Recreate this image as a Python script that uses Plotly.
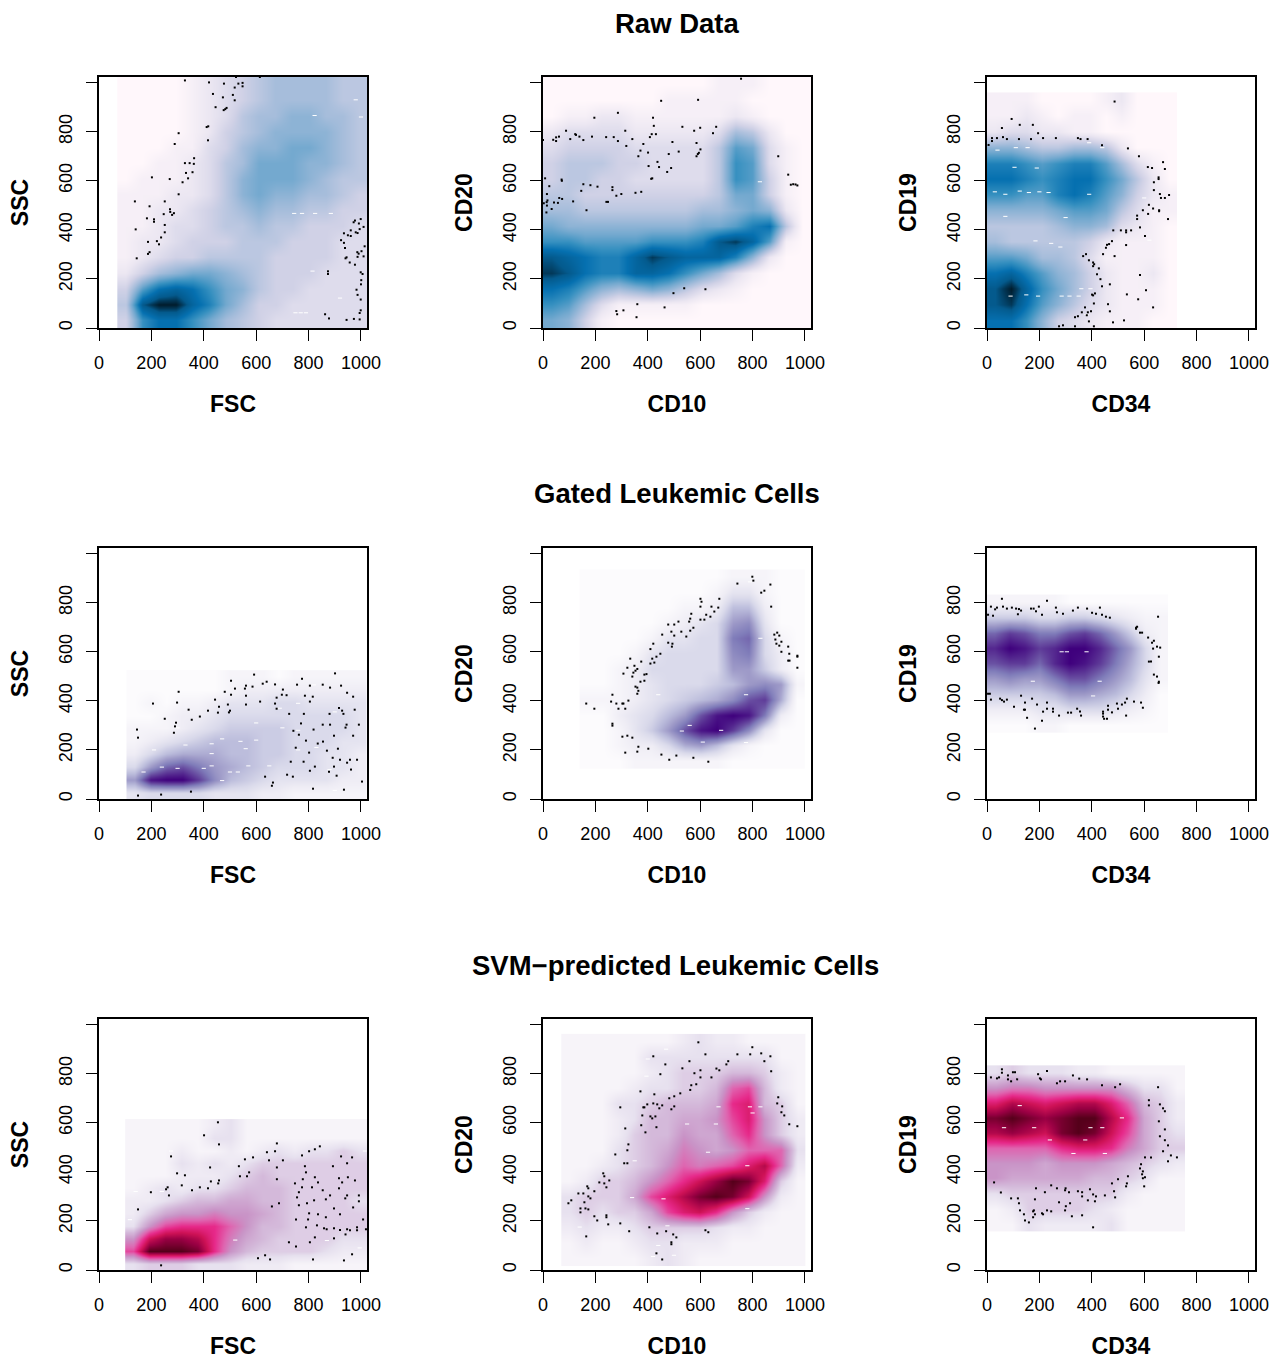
import plotly.graph_objects as go

XLABELS = ["FSC", "CD10", "CD34"]
YLABELS = ["SSC", "CD20", "CD19"]
ROW_TITLES = ["Raw Data", "Gated Leukemic Cells", "SVM\u2212predicted Leukemic Cells"]
TICKS = [0, 200, 400, 600, 800, 1000]

PUBU = [(0, "#FFF7FB"), (2, "#ECE7F2"), (4, "#D0D1E6"), (6, "#A6BDDB"), (8, "#74A9CF"), (10, "#3690C0"), (12, "#0570B0"), (14, "#045A8D"), (15, "#023858"), (16, "#011C2C")]
PURPLES = [(0, "#FCFBFD"), (2, "#EFEDF5"), (4, "#DADAEB"), (6, "#BCBDDC"), (8, "#9E9AC8"), (10, "#807DBA"), (12, "#6A51A3"), (14, "#54278F"), (16, "#3F007D")]
PURD = [(0, "#F7F4F9"), (2, "#E7E1EF"), (4, "#D4B9DA"), (6, "#C994C7"), (8, "#DF65B0"), (10, "#E7298A"), (12, "#CE1256"), (14, "#980043"), (16, "#55001A")]

# density levels, rows listed from top of the panel to the bottom; (x_min, x_max, y_min, y_max) extents
EXT1 = (70, 1023, 0, 1024)
D1 = [
 [0,0,0,0,1,2,3,4,5,6,6,6,6,5,5],
 [0,0,0,0,1,2,3,4,5,6,6,6,6,5,5],
 [0,0,0,0,1,2,3,5,6,6,7,7,6,6,5],
 [0,0,0,0,1,2,4,5,6,7,7,7,7,6,5],
 [0,0,0,1,1,3,4,6,7,7,8,8,7,6,5],
 [0,0,1,1,2,3,5,6,8,8,8,7,7,6,5],
 [0,1,1,1,2,3,5,7,8,8,8,7,6,5,5],
 [1,1,1,2,2,3,5,7,8,7,7,6,6,5,4],
 [1,1,2,2,3,4,5,6,7,6,6,5,5,4,4],
 [1,1,2,3,3,4,5,5,6,5,5,4,4,4,3],
 [1,2,2,3,4,4,4,5,5,5,4,4,4,3,3],
 [1,2,3,4,4,5,5,5,5,4,4,4,4,3,3],
 [2,4,6,7,8,8,7,6,5,4,4,4,3,3,3],
 [4,9,12,13,12,10,8,7,5,4,4,3,3,3,3],
 [5,14,16,16,13,11,8,6,4,4,3,3,3,3,3],
 [4,10,12,12,10,8,6,5,4,3,3,3,3,3,3],
]
EXT2 = (0, 1023, 0, 1024)
D2 = [
 [0,0,0,0,0,0,0,0,0,0,1,1,1,0,0,0],
 [0,0,0,0,0,0,0,1,1,1,1,1,0,0,0,0],
 [0,1,1,2,2,1,1,1,1,1,1,2,1,0,0,0],
 [2,3,3,3,3,2,2,2,2,2,3,6,5,2,0,0],
 [3,4,4,4,4,3,3,3,3,3,5,9,8,3,1,0],
 [4,5,5,5,4,4,3,3,3,3,5,10,9,3,1,0],
 [4,5,5,4,4,3,3,3,3,3,5,10,9,4,1,0],
 [5,5,4,4,4,4,4,4,4,4,5,8,8,4,1,0],
 [6,6,5,5,5,5,5,5,5,6,6,7,8,7,2,0],
 [8,7,7,7,7,7,7,7,7,8,8,9,11,12,5,0],
 [10,10,9,9,9,9,10,10,10,11,14,15,13,9,1,0],
 [14,13,12,11,11,13,15,14,13,13,13,11,7,2,0,0],
 [15,14,12,11,11,13,13,12,10,8,6,3,1,0,0,0],
 [12,11,9,7,6,7,8,7,5,3,2,1,0,0,0,0],
 [10,9,6,3,1,1,1,1,1,0,0,0,0,0,0,0],
 [8,7,4,1,0,0,0,0,0,0,0,0,0,0,0,0],
]
EXT3 = (0, 725, 0, 960)
D3 = [
 [1,1,1,0,0,0,0,1,2,0,0,0],
 [1,1,2,1,0,1,1,0,1,0,0,0],
 [2,3,3,2,2,1,1,0,0,0,0,0],
 [7,7,6,5,5,6,6,5,2,0,0,0],
 [11,11,10,9,10,11,11,9,6,3,1,0],
 [12,12,11,10,11,12,12,10,8,5,2,0],
 [10,10,9,9,11,12,11,9,7,4,2,1],
 [7,7,7,7,8,9,9,8,5,3,1,1],
 [5,5,5,5,6,7,7,6,3,2,1,0],
 [6,5,5,5,5,5,4,2,1,1,1,0],
 [9,9,8,6,6,5,3,1,1,1,1,0],
 [12,13,11,9,7,6,4,2,1,1,2,0],
 [14,16,13,10,8,6,4,2,1,1,1,0],
 [14,15,12,9,7,5,3,2,1,1,1,0],
 [12,12,10,7,4,3,2,1,1,1,0,0],
]
EXT4 = (105, 1023, 0, 525)
D4 = [
 [0,0,0,0,0,0,1,1,1,0,1,1,1,1,1],
 [0,0,0,0,0,0,1,2,2,2,2,2,2,2,2],
 [0,1,0,1,1,2,3,3,3,4,4,3,3,3,3],
 [0,0,1,2,2,3,4,4,4,4,4,4,4,4,3],
 [1,1,1,2,3,4,5,5,5,5,4,4,4,4,3],
 [1,2,3,4,5,6,6,6,5,5,4,4,4,3,3],
 [2,4,6,7,7,7,6,6,5,5,4,4,3,3,2],
 [4,8,11,12,10,8,7,6,5,4,4,4,3,3,2],
 [8,15,16,16,13,9,6,5,4,3,3,3,3,2,2],
 [3,4,4,4,4,3,3,3,2,2,1,1,1,1,1],
]
EXT5 = (140, 1000, 125, 935)
D5 = [
 [0,0,0,0,0,0,0,0,0,1,1,1,0,0],
 [0,0,0,0,0,0,0,0,1,3,3,1,0,0],
 [0,0,0,0,0,0,1,1,2,6,6,2,0,0],
 [0,0,0,0,0,1,2,3,4,8,9,3,0,0],
 [0,0,0,0,1,3,3,4,4,10,11,4,1,0],
 [0,0,0,1,3,4,4,4,4,9,10,4,2,0],
 [0,0,1,2,4,4,4,4,4,8,8,5,2,0],
 [0,0,1,2,3,4,4,4,5,6,8,9,8,1],
 [1,1,1,2,3,4,5,6,7,9,12,13,7,0],
 [0,0,2,3,4,6,8,12,15,16,15,10,2,0],
 [0,0,1,3,5,8,12,15,16,13,9,3,0,0],
 [0,0,1,2,2,4,7,8,6,3,1,0,0,0],
 [0,0,0,1,1,1,1,1,1,0,0,0,0,0],
]
EXT6 = (0, 690, 272, 833)
D6 = [
 [1,1,1,1,1,0,0,0,0,0,0,0],
 [5,5,5,4,4,5,5,4,3,2,1,1],
 [11,13,12,10,10,12,13,11,8,5,2,1],
 [14,16,15,13,14,16,16,14,11,8,4,1],
 [12,13,13,11,14,16,15,13,10,7,4,1],
 [8,9,8,8,10,12,12,10,8,6,3,1],
 [5,5,5,5,6,8,8,7,6,4,2,0],
 [2,2,2,3,3,4,4,4,3,2,1,0],
 [0,0,0,1,1,0,0,0,0,0,0,0],
]
EXT7 = (100, 1023, 0, 615)
D7 = [
 [0,0,0,0,0,1,2,0,0,0,0,0,0,0,0],
 [0,0,0,0,0,2,2,0,0,0,0,0,0,0,0],
 [0,0,0,1,0,0,1,0,1,2,1,2,2,3,2],
 [0,0,0,2,1,2,1,2,3,3,3,3,3,3,3],
 [0,0,0,1,1,1,2,3,4,3,3,3,3,3,3],
 [0,1,2,1,2,2,3,4,4,4,3,3,3,3,3],
 [1,1,2,3,4,4,5,5,4,4,3,3,3,3,2],
 [1,3,5,6,6,7,6,6,5,4,3,3,3,3,3],
 [2,6,9,10,10,10,8,6,4,4,3,3,3,3,3],
 [6,12,14,14,13,10,7,5,4,3,3,3,3,2,2],
 [9,16,16,16,15,10,6,4,3,3,3,3,2,1,1],
 [2,3,3,3,2,2,2,1,1,1,0,0,0,0,0],
]
EXT8 = (70, 1001, 16, 962)
D8 = [
 [0,0,0,0,0,0,0,1,2,1,1,0,0,0,0],
 [0,0,0,0,0,2,2,2,2,2,2,2,2,0,0],
 [0,0,0,0,0,1,2,3,3,3,4,4,3,1,0],
 [0,0,0,0,1,2,2,3,3,4,8,9,4,1,0],
 [0,0,0,2,2,3,4,4,4,5,10,11,4,3,0],
 [0,0,0,1,2,4,4,5,5,6,9,11,6,3,1],
 [0,0,0,1,3,4,4,6,5,5,8,10,6,3,1],
 [0,0,0,2,3,4,5,7,6,5,6,8,8,8,2],
 [0,0,1,2,3,4,6,8,7,8,9,11,13,8,1],
 [0,1,3,3,4,6,8,10,12,14,16,15,11,3,0],
 [2,3,3,3,5,9,11,13,15,16,15,12,6,1,0],
 [2,3,2,3,3,5,9,11,12,10,6,3,1,0,0],
 [1,2,1,1,2,3,3,3,3,2,1,1,0,0,0],
 [0,1,0,0,1,2,2,1,1,1,0,0,0,0,0],
 [0,0,0,0,0,1,2,1,0,0,0,0,0,0,0],
]
EXT9 = (0, 756, 159, 834)
D9 = [
 [2,3,2,2,2,1,1,0,0,0,0,0],
 [6,7,7,6,6,6,6,6,4,2,2,0],
 [11,13,12,11,12,13,13,11,8,4,3,1],
 [15,16,15,14,15,16,16,13,10,5,3,1],
 [13,14,13,12,15,16,15,12,9,5,3,2],
 [8,8,8,8,10,11,11,10,7,5,3,3],
 [6,6,6,5,6,6,6,5,4,3,2,1],
 [6,5,5,5,5,5,4,4,3,2,0,0],
 [2,3,3,3,3,3,3,3,1,0,0,0],
 [0,1,3,3,3,3,2,1,0,0,0,0],
 [0,0,2,1,1,1,1,2,0,0,0,0],
]

# sparse outlying events
P1 = [(328,1009),(420,1001),(477,996),(523,1023),(614,1023),(532,996),(548,999),(548,985),(518,980),(435,954),(511,950),(473,940),(518,928),(445,900),(487,897),(482,892),(476,888),(417,822),(411,819),(416,765),(304,794),(289,750),(363,692),(362,669),(346,672),(328,672),(332,632),(357,635),(340,610),(319,594),(270,607),(202,614),(304,545),(137,516),(193,496),(251,516),(271,484),(272,473),(286,468),(247,464),(279,461),(183,447),(210,443),(210,433),(251,420),(251,390),(237,369),(140,402),(187,351),(221,354),(229,341),(193,309),(187,302),(144,284),(999,444),(977,438),(972,431),(992,426),(1010,412),(961,398),(995,403),(935,386),(950,378),(961,375),(980,390),(987,387),(924,358),(935,347),(939,326),(1014,333),(1002,313),(986,309),(991,303),(1010,292),(987,290),(945,288),(941,284),(957,267),(977,258),(999,227),(1006,220),(874,231),(874,220),(1001,195),(1000,178),(983,156),(987,135),(999,116),(999,72),(995,61),(863,56),(878,39),(945,33),(973,37),(995,35)]
P2 = [(756,1016),(451,926),(592,930),(196,857),(286,877),(420,857),(423,824),(88,804),(314,804),(532,820),(600,816),(661,820),(577,804),(649,794),(123,790),(126,787),(139,780),(61,780),(50,777),(187,780),(241,778),(270,778),(39,767),(50,762),(104,770),(154,766),(286,762),(341,770),(415,790),(431,790),(408,778),(0,766),(383,750),(494,758),(586,754),(318,742),(372,723),(601,728),(518,719),(595,714),(480,709),(401,715),(364,700),(586,700),(591,709),(898,700),(437,677),(403,660),(443,656),(489,652),(474,636),(936,625),(8,610),(71,605),(72,600),(417,610),(413,608),(24,578),(154,586),(181,582),(208,576),(265,574),(265,562),(146,559),(15,546),(299,546),(280,539),(353,551),(375,555),(946,584),(955,586),(964,585),(971,581),(62,530),(73,526),(17,520),(115,516),(14,513),(3,508),(42,512),(57,510),(242,514),(248,514),(15,499),(33,485),(166,480),(13,471),(539,162),(620,158),(498,142),(360,97),(464,84),(307,72),(280,69),(283,56),(357,44)]
P3 = [(487,923),(94,852),(125,828),(175,828),(57,815),(195,794),(61,778),(19,774),(38,774),(76,770),(19,762),(6,746),(122,770),(168,770),(214,774),(263,774),(347,774),(357,770),(384,770),(439,745),(538,732),(580,700),(672,676),(614,656),(630,652),(679,648),(655,614),(655,607),(637,594),(637,562),(660,546),(695,542),(664,530),(679,530),(618,502),(634,487),(595,480),(657,480),(657,476),(615,465),(573,458),(573,444),(691,444),(584,410),(482,398),(511,398),(531,398),(531,390),(550,398),(603,375),(477,354),(466,342),(458,339),(454,327),(531,338),(443,301),(378,301),(367,293),(487,293),(389,276),(405,267),(409,260),(405,252),(427,243),(420,219),(433,199),(584,216),(439,170),(469,178),(607,154),(401,136),(412,141),(405,133),(534,137),(577,117),(408,100),(462,97),(634,84),(374,84),(362,64),(397,68),(469,68),(385,64),(381,52),(347,48),(336,44),(523,31),(389,27),(481,23),(290,11),(275,7),(336,7),(408,7)]
P4 = [(592,507),(901,512),(775,490),(504,482),(640,478),(625,470),(672,467),(756,466),(805,462),(854,466),(924,462),(882,454),(561,462),(557,450),(586,458),(519,450),(702,446),(480,437),(304,437),(504,425),(561,421),(786,421),(698,425),(716,423),(678,413),(816,417),(970,417),(947,433),(443,405),(615,397),(805,397),(206,389),(298,393),(561,385),(492,385),(672,389),(458,376),(916,371),(678,368),(342,364),(500,360),(416,360),(928,360),(976,364),(496,353),(454,352),(726,347),(782,347),(880,347),(933,347),(385,336),(251,327),(354,323),(771,308),(294,311),(854,303),(882,303),(945,303),(992,303),(290,296),(941,291),(145,283),(819,283),(742,278),(286,270),(763,262),(970,258),(897,258),(149,250),(790,238),(855,234),(835,226),(751,209),(912,205),(870,197),(802,189),(892,168),(920,160),(958,160),(985,160),(781,152),(732,152),(947,148),(897,132),(824,132),(962,120),(805,115),(878,111),(718,99),(907,95),(740,91),(634,91),(1004,71),(664,67),(660,54),(817,42),(935,38),(351,30),(237,18),(149,14)]
P5 = [(799,906),(803,890),(742,878),(868,874),(845,849),(833,841),(601,816),(605,804),(673,816),(601,784),(871,784),(643,784),(669,780),(654,764),(623,751),(566,755),(639,743),(562,735),(601,731),(616,731),(517,723),(478,711),(501,711),(558,723),(574,698),(562,686),(528,682),(490,682),(501,666),(455,670),(547,662),(894,678),(883,670),(902,666),(887,650),(910,641),(891,633),(902,625),(936,621),(478,637),(494,633),(492,621),(421,633),(410,611),(910,600),(940,592),(971,584),(971,580),(448,592),(433,580),(333,572),(417,572),(375,560),(349,543),(410,552),(425,556),(936,564),(941,564),(971,535),(360,530),(322,535),(353,523),(307,511),(345,515),(341,499),(387,507),(395,509),(387,482),(372,478),(353,458),(360,454),(364,441),(360,429),(265,425),(260,397),(326,401),(280,389),(303,389),(307,389),(165,389),(196,368),(288,368),(314,368),(265,307),(265,299),(341,250),(322,258),(303,254),(364,213),(402,205),(360,193),(314,189),(452,181),(509,177),(482,160),(574,168),(631,152)]
P6 = [(57,816),(229,808),(15,784),(61,784),(38,780),(31,773),(76,776),(95,780),(111,776),(122,774),(130,768),(168,776),(178,776),(198,784),(187,765),(118,753),(210,751),(263,780),(267,761),(290,755),(328,768),(347,780),(382,776),(401,759),(416,755),(431,780),(439,751),(454,743),(469,739),(4,751),(23,747),(653,743),(569,698),(573,702),(569,694),(584,678),(592,678),(615,658),(637,645),(630,637),(634,613),(649,621),(661,617),(656,580),(618,560),(626,560),(637,507),(649,499),(656,478),(655,473),(4,429),(11,429),(15,405),(50,409),(57,403),(65,397),(76,405),(130,421),(172,409),(145,393),(191,385),(229,393),(103,376),(141,364),(145,364),(229,368),(252,368),(252,356),(214,356),(153,331),(210,319),(183,287),(275,340),(309,352),(321,352),(344,368),(355,357),(359,340),(443,356),(443,348),(443,336),(447,327),(458,327),(462,380),(462,364),(477,353),(496,389),(515,385),(500,368),(527,393),(534,409),(531,340),(561,397),(588,393),(595,372)]
P7 = [(454,602),(401,549),(458,512),(679,516),(843,504),(824,492),(802,484),(641,480),(672,484),(588,459),(557,451),(649,447),(702,447),(775,467),(275,463),(924,463),(966,459),(947,435),(786,423),(893,423),(534,423),(424,418),(679,418),(298,394),(573,398),(328,386),(538,382),(565,382),(790,398),(824,378),(916,374),(950,378),(679,370),(778,370),(458,365),(427,361),(928,357),(977,365),(836,357),(455,353),(748,353),(316,345),(385,337),(416,333),(775,337),(813,337),(262,337),(256,329),(916,333),(355,325),(854,325),(198,317),(763,317),(267,304),(882,304),(947,304),(992,304),(756,296),(866,288),(940,292),(821,284),(992,280),(687,272),(794,272),(763,264),(660,259),(149,247),(970,255),(897,251),(802,231),(836,227),(920,227),(866,215),(752,206),(798,206),(1008,206),(832,182),(790,174),(859,170),(869,166),(897,170),(920,163),(947,166),(958,162),(985,174),(985,162),(1019,166),(941,145),(824,133),(897,129),(805,113),(725,113),(752,96),(966,64),(634,60),(607,48),(653,43),(817,43),(935,39),(237,19)]
P8 = [(593,928),(620,879),(421,871),(799,908),(742,879),(791,879),(833,883),(868,871),(845,851),(707,851),(700,838),(467,838),(559,851),(662,821),(673,814),(532,822),(871,810),(448,798),(578,802),(601,814),(601,785),(643,785),(585,757),(566,753),(562,734),(372,728),(524,720),(425,716),(482,700),(501,708),(898,704),(894,679),(913,667),(295,663),(383,663),(387,663),(398,675),(421,679),(436,675),(455,671),(444,659),(501,667),(490,655),(910,643),(921,630),(379,630),(410,626),(417,618),(429,626),(375,590),(433,582),(940,594),(971,586),(314,577),(391,561),(326,512),(322,488),(276,471),(310,435),(322,435),(230,394),(234,382),(215,357),(234,353),(253,365),(242,337),(196,321),(169,341),(173,333),(173,300),(181,292),(135,312),(154,312),(158,276),(108,284),(97,272),(143,251),(162,251),(173,247),(143,235),(196,219),(242,223),(242,215),(207,202),(249,186),(295,190),(165,137),(329,158),(406,174),(620,162),(631,154),(436,149),(470,158),(497,145),(509,133),(490,113),(490,105),(433,68),(455,43)]
P9 = [(57,818),(57,804),(99,806),(107,806),(229,811),(195,798),(80,793),(328,793),(15,785),(38,781),(46,785),(80,777),(92,769),(115,777),(202,781),(206,777),(352,780),(382,777),(298,769),(279,769),(267,761),(508,757),(439,753),(489,745),(653,745),(618,692),(618,671),(660,675),(672,659),(679,647),(656,606),(679,573),(660,545),(679,529),(691,508),(672,484),(702,467),(725,459),(691,443),(626,459),(603,459),(588,431),(584,414),(595,402),(592,390),(603,378),(595,374),(538,382),(600,341),(534,353),(531,341),(500,370),(477,353),(27,357),(53,316),(187,333),(245,345),(267,333),(300,333),(298,325),(221,317),(313,317),(347,321),(363,317),(485,321),(393,329),(405,308),(363,300),(416,300),(450,304),(489,296),(385,284),(412,280),(183,288),(92,292),(118,292),(122,272),(275,276),(317,272),(301,260),(298,243),(126,243),(141,227),(179,243),(176,239),(183,227),(176,215),(145,202),(160,194),(210,231),(214,227),(229,243),(245,239),(324,219),(363,223),(405,174)]

# tiny white gaps left inside the densities
G1 = [(770,62),(750,62),(790,62),(815,232),(745,467),(775,467),(825,467),(885,467),(1000,860),(823,866),(980,930),(920,122)]
G2 = [(828,596)]
G3 = [(105,655),(190,652),(30,555),(70,545),(125,558),(160,552),(200,555),(235,552),(390,545),(300,450),(70,455),(185,355),(245,345),(280,330),(390,755),(440,735),(40,725),(110,735),(155,735),(90,130),(150,135),(195,130),(285,130),(315,130),(350,130),(360,160),(600,530),(620,358),(395,160),(380,55)]
G4 = [(300,125),(400,125),(240,130),(330,220),(430,225),(210,200),(430,185),(560,205),(470,245),(300,290),(600,240),(700,290),(760,200),(830,210),(880,120),(170,110),(500,110),(430,135),(570,135),(470,75),(600,310),(760,390),(820,465),(900,355),(530,110),(540,235),(650,135),(690,370),(760,280),(900,35)]
G5 = [(560,300),(775,425),(440,425),(790,885),(830,655),(610,232),(775,230),(680,280),(530,277)]
G6 = [(285,600),(305,600),(380,600),(175,480),(430,480),(405,420)]
G7 = [(140,320),(240,320),(275,485),(520,122),(995,90),(870,120),(1015,485),(118,205)]
G8 = [(470,900),(400,860),(395,790),(660,595),(670,665),(790,665),(830,665),(550,595),(630,480),(780,425),(350,445),(140,175),(340,295),(460,290),(475,180),(440,100),(420,55),(780,250),(800,640),(500,60)]
G9 = [(395,580),(440,580),(180,580),(240,530),(375,530),(515,620),(330,475),(450,475),(125,670),(65,580)]

DENSITIES = [D1, D2, D3, D4, D5, D6, D7, D8, D9]
EXTENTS = [EXT1, EXT2, EXT3, EXT4, EXT5, EXT6, EXT7, EXT8, EXT9]
POINTS = [P1, P2, P3, P4, P5, P6, P7, P8, P9]
GAPS = [G1, G2, G3, G4, G5, G6, G7, G8, G9]
SCALES = [PUBU, PURPLES, PURD]

W, H = 1278, 1359
COL_LEFT = [99, 543, 987]
ROW_TOP = [77, 548, 1019]
PW, PH = 268, 251
TITLE_Y = [23, 494, 965]

fig = go.Figure()
for r in range(3):
    for c in range(3):
        i = r * 3 + c
        ax = "" if i == 0 else str(i + 1)
        grid = DENSITIES[i][::-1]
        x0, x1, y0, y1 = EXTENTS[i]
        nx, ny = len(grid[0]), len(grid)
        dx, dy = (x1 - x0) / nx, (y1 - y0) / ny
        fig.add_trace(go.Heatmap(
            z=grid, x0=x0 + dx / 2, dx=dx, y0=y0 + dy / 2, dy=dy,
            zmin=0, zmax=16, zsmooth="best", showscale=False, hoverinfo="skip",
            colorscale=[[s / 16, col] for s, col in SCALES[r]],
            xaxis="x" + ax, yaxis="y" + ax))
        gaps = GAPS[i]
        fig.add_trace(go.Scatter(
            x=[p[0] for p in gaps], y=[p[1] for p in gaps], mode="markers",
            marker=dict(symbol="line-ew", size=3, color="white", line=dict(width=1, color="white")),
            showlegend=False, hoverinfo="skip", xaxis="x" + ax, yaxis="y" + ax))
        pts = POINTS[i]
        fig.add_trace(go.Scatter(
            x=[p[0] for p in pts], y=[p[1] for p in pts], mode="markers",
            marker=dict(symbol="square", size=2, color="black", line=dict(width=0)),
            showlegend=False, xaxis="x" + ax, yaxis="y" + ax))
        common = dict(range=[0, 1023], showline=True, mirror=True, linecolor="black", linewidth=1.5,
                      ticks="outside", ticklen=11, tickwidth=1.2, tickcolor="black",
                      tickvals=TICKS, showgrid=False, zeroline=False, automargin=False,
                      ticklabelstandoff=7,
                      tickfont=dict(family="Liberation Sans", size=18, color="black"))
        fig.layout["xaxis" + ax] = go.layout.XAxis(
            domain=[COL_LEFT[c] / W, (COL_LEFT[c] + PW) / W], anchor="y" + ax,
            title=dict(text="<b>%s</b>" % XLABELS[c], standoff=24,
                       font=dict(family="Liberation Sans", size=23, color="black")),
            ticktext=[str(t) for t in TICKS], **common)
        fig.layout["yaxis" + ax] = go.layout.YAxis(
            domain=[1 - (ROW_TOP[r] + PH) / H, 1 - ROW_TOP[r] / H], anchor="x" + ax,
            title=dict(text="<b>%s</b>" % YLABELS[c], standoff=21,
                       font=dict(family="Liberation Sans", size=23, color="black")),
            ticktext=[str(t) if t < 1000 else "" for t in TICKS], tickangle=-90, **common)

anns = []
for r in range(3):
    a = dict(text="<b>%s</b>" % ROW_TITLES[r], xref="paper", yref="paper", y=1 - TITLE_Y[r] / H,
             yanchor="middle", showarrow=False, font=dict(family="Liberation Sans", size=27.5, color="black"))
    if r == 2:
        a.update(x=471 / W, xanchor="left", align="left", width=407, borderpad=0)
    else:
        a.update(x=677 / W, xanchor="center")
    anns.append(a)

fig.update_layout(width=W, height=H, margin=dict(l=0, r=0, t=0, b=0), autosize=False,
                  paper_bgcolor="white", plot_bgcolor="white", showlegend=False,
                  annotations=anns, font=dict(family="Liberation Sans", color="black"))
fig.write_html("out.html", config=dict(displayModeBar=False),
               post_script="document.body.style.margin='0';document.documentElement.style.overflow='hidden';")
